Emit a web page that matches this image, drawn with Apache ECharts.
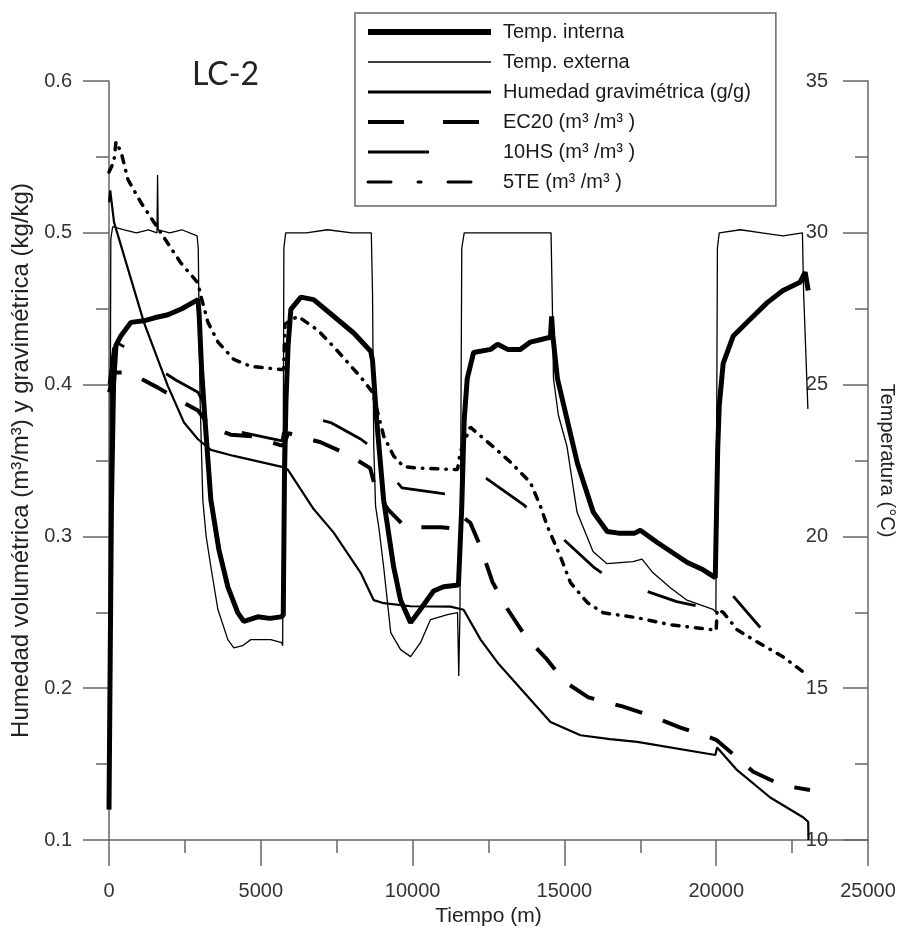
<!DOCTYPE html>
<html><head><meta charset="utf-8">
<script src="https://cdn.jsdelivr.net/npm/echarts@6.0.0/dist/echarts.min.js"></script>
<style>html,body{margin:0;padding:0;background:#fff}#c{width:900px;height:927px}</style>
</head><body><div id="c"></div>
<script>
// Tiempo (min) vs temperature (°C) — right axis
const tempInterna = [[0,11.0],[40,16],[80,21],[150,25.0],[230,26.3],[390,26.6],[720,27.05],[1150,27.1],[1500,27.2],[1940,27.3],[2400,27.5],[2930,27.8],[2970,27.3],[3050,25.5],[3150,24.0],[3355,21.2],[3620,19.56],[3915,18.34],[4240,17.49],[4440,17.2],[4900,17.35],[5300,17.3],[5660,17.35],[5740,17.4],[5780,22.0],[5830,24.5],[5900,26.3],[5990,27.48],[6320,27.88],[6740,27.8],[7400,27.25],[8060,26.7],[8620,26.1],[8680,25.8],[8815,23.85],[9046,21.2],[9375,19.0],[9605,17.9],[9934,17.16],[10260,17.6],[10690,18.2],[11020,18.34],[11510,18.4],[11560,18.4],[11620,21],[11700,23.85],[11800,25.2],[12010,26.06],[12570,26.16],[12800,26.33],[13130,26.16],[13550,26.16],[13880,26.4],[14540,26.56],[14580,27.25],[14620,26.6],[14770,25.2],[15430,22.4],[15950,20.8],[16410,20.16],[16840,20.1],[17300,20.1],[17500,20.2],[18060,19.8],[19050,19.14],[19570,18.9],[19970,18.64],[20010,18.7],[20050,22.9],[20100,24.3],[20230,25.7],[20560,26.6],[21120,27.15],[21680,27.7],[22200,28.1],[22760,28.37],[22930,28.7],[23030,28.1]];
const tempExterna = [[0,11.5],[60,29.8],[120,30.2],[500,30.1],[900,30.0],[1300,30.1],[1580,30.0],[1600,31.9],[1620,30.1],[2000,30.0],[2400,30.1],[2900,29.9],[2940,29.5],[3000,24.5],[3090,21.2],[3200,20.0],[3355,19.0],[3585,17.6],[3915,16.6],[4112,16.33],[4400,16.4],[4670,16.6],[5330,16.6],[5690,16.5],[5720,16.4],[5760,29.5],[5820,30.0],[6500,30.0],[7200,30.1],[8000,30.0],[8640,30.0],[8680,28.0],[8720,23.0],[8780,21.0],[8900,20.2],[9046,19.0],[9280,16.83],[9605,16.27],[9934,16.04],[10260,16.5],[10590,17.26],[11150,17.42],[11480,17.49],[11520,15.4],[11560,17.5],[11620,29.5],[11700,30.0],[12500,30.0],[13300,30.0],[14000,30.0],[14560,30.0],[14600,27.8],[14640,25.2],[14800,24.0],[15086,22.96],[15415,20.8],[15942,19.5],[16403,19.1],[17260,19.17],[17556,19.25],[17918,18.8],[18500,18.3],[19038,17.9],[19895,17.6],[19990,17.5],[20040,29.5],[20100,30.0],[20800,30.1],[21500,30.0],[22200,29.9],[22840,30.0],[22880,28.0],[23020,24.2]];
// Humidity values (left axis)
const humGrav = [[0,0.52],[40,0.528],[165,0.507],[1150,0.441],[1940,0.399],[2470,0.375],[2930,0.364],[3355,0.357],[4110,0.353],[5660,0.346],[5890,0.344],[6740,0.318],[7400,0.3025],[8290,0.276],[8720,0.258],[9050,0.256],[9930,0.254],[11250,0.2537],[11680,0.2517],[12240,0.232],[12800,0.2168],[14540,0.1778],[15530,0.169],[16500,0.1665],[17400,0.1646],[19970,0.156],[20030,0.161],[20690,0.146],[21780,0.128],[22860,0.115],[23030,0.112],[23040,0.1]];
const ec20 = [[0,0.395],[165,0.408],[660,0.408],[1610,0.398],[2370,0.389],[2930,0.383],[3355,0.372],[4010,0.367],[4700,0.366],[5660,0.36],[5760,0.36],[5900,0.368],[6970,0.362],[7860,0.354],[8600,0.345],[8800,0.33],[9180,0.318],[9770,0.306],[10920,0.306],[11500,0.305],[11700,0.312],[11900,0.309],[12240,0.293],[12630,0.27],[13130,0.252],[13720,0.234],[14380,0.22],[15030,0.204],[15790,0.194],[16910,0.188],[17830,0.182],[18820,0.174],[19740,0.168],[20000,0.166],[20530,0.157],[21220,0.145],[22170,0.136],[23090,0.133]];
const hs10 = [[0,0.40],[150,0.424],[300,0.427],[900,0.421],[1500,0.412],[2200,0.403],[2930,0.395],[3300,0.38],[4000,0.37],[5700,0.363],[5800,0.375],[6300,0.38],[7300,0.375],[8300,0.364],[8700,0.358],[9300,0.34],[9650,0.332],[11400,0.327],[11650,0.335],[12300,0.34],[13650,0.321],[14500,0.305],[14870,0.3],[15950,0.28],[16500,0.272],[17100,0.268],[18700,0.257],[19900,0.252],[20100,0.262],[20460,0.263],[21450,0.24]];
const te5 = [[0,0.54],[160,0.547],[230,0.56],[400,0.553],[625,0.535],[1050,0.52],[1710,0.5],[2370,0.48],[2930,0.467],[3030,0.458],[3260,0.441],[3590,0.428],[4110,0.4166],[4670,0.412],[5660,0.41],[5750,0.41],[5800,0.44],[6220,0.445],[6870,0.436],[7400,0.425],[8290,0.405],[8680,0.395],[9050,0.366],[9375,0.353],[9700,0.346],[10160,0.345],[11480,0.344],[11560,0.355],[11900,0.372],[12660,0.359],[13220,0.349],[13880,0.3355],[14210,0.32],[14440,0.3065],[14870,0.2867],[15200,0.2695],[15760,0.2563],[16280,0.2497],[17400,0.2464],[18490,0.2418],[19900,0.2385],[20000,0.238],[20030,0.2517],[20230,0.25],[20690,0.2385],[21220,0.232],[22200,0.2207],[22990,0.2088]];

const seriesNames = ['Temp. interna','Temp. externa','Humedad gravimétrica (g/g)','EC20 (m³ /m³ )','10HS (m³ /m³ )','5TE (m³ /m³ )'];
const xTicks = {min:0, max:25000, interval:5000};
const yLeftTicks = {min:0.1, max:0.6, interval:0.1};
const yRightTicks = {min:10, max:35, interval:5};

const FONT = '"Liberation Sans", Arial, sans-serif';
const AX = '#666';
const chart = echarts.init(document.getElementById('c'), null, {renderer:'canvas'});
const axisCommon = {
  axisLine:{show:true, onZero:false, lineStyle:{color:AX, width:1.5}},
  axisTick:{show:true, length:26, lineStyle:{color:AX, width:1.5}},
  minorTick:{show:true, splitNumber:2, length:13, lineStyle:{color:AX, width:1.5}},
  splitLine:{show:false}, minorSplitLine:{show:false},
};
chart.setOption({
  animation:false,
  backgroundColor:'#fff',
  title:{text:'LC-2', left:192, top:59, padding:0, textStyle:{fontSize:32, fontWeight:'normal', fontFamily:'Lato, "Open Sans", sans-serif', color:'#222'}},
  grid:{left:109, right:32, top:81, bottom:87, containLabel:false, outerBoundsMode:'none'},
  legend:{
    orient:'vertical', left:355, top:13, padding:[9,25,14,10],
    itemWidth:123, itemHeight:20, itemGap:10,
    borderColor:'#666', borderWidth:1.5, backgroundColor:'#fff',
    textStyle:{fontSize:20, fontFamily:FONT, color:'#1a1a1a', padding:[0,0,0,7]},
    itemStyle:{opacity:0},
    data:[
      {name:seriesNames[0], lineStyle:{width:6}},
      {name:seriesNames[1], lineStyle:{width:1.5}},
      {name:seriesNames[2], lineStyle:{width:2.8}},
      {name:seriesNames[3], lineStyle:{width:4, type:[36,39]}},
      {name:seriesNames[4], lineStyle:{width:3, type:[61,70]}},
      {name:seriesNames[5], lineStyle:{width:3, type:[23,27,3,27]}}
    ]
  },
  xAxis:Object.assign({type:'value', min:xTicks.min, max:xTicks.max, interval:xTicks.interval,
    axisLabel:{fontSize:20, color:'#333', margin:41, fontFamily:FONT, formatter:v=>String(v)},
    name:'Tiempo (m)', nameLocation:'middle', nameGap:60, nameTextStyle:{fontSize:21, color:'#222', fontFamily:FONT}
  }, axisCommon),
  yAxis:[
    Object.assign({type:'value', position:'left', min:yLeftTicks.min, max:yLeftTicks.max, interval:yLeftTicks.interval,
      axisLabel:{fontSize:20, color:'#333', margin:37, fontFamily:FONT, formatter:v=>v.toFixed(1)},
      name:'Humedad volumétrica (m³/m³) y gravimétrica (kg/kg)', nameLocation:'middle', nameGap:73, nameRotate:90,
      nameTextStyle:{fontSize:24, color:'#222', fontFamily:FONT}
    }, axisCommon),
    Object.assign({type:'value', position:'right', min:yRightTicks.min, max:yRightTicks.max, interval:yRightTicks.interval,
      axisLabel:{inside:true, fontSize:20, color:'#333', margin:40, fontFamily:FONT},
      name:'Temperatura (°C)', nameLocation:'middle', nameGap:7, nameRotate:-90,
      nameTextStyle:{fontSize:20, color:'#222', fontFamily:FONT}
    }, axisCommon, {axisTick:{show:true, inside:true, length:25, lineStyle:{color:AX, width:1.5}}})
  ],
  series:[
    {name:seriesNames[0], type:'line', yAxisIndex:1, data:tempInterna, symbol:'none', lineStyle:{color:'#000', width:5}, itemStyle:{color:'#000'}, z:5},
    {name:seriesNames[1], type:'line', yAxisIndex:1, data:tempExterna, symbol:'none', lineStyle:{color:'#000', width:1.3}, itemStyle:{color:'#000'}, z:4},
    {name:seriesNames[2], type:'line', yAxisIndex:0, data:humGrav, symbol:'none', lineStyle:{color:'#000', width:2.2}, itemStyle:{color:'#000'}, z:3},
    {name:seriesNames[3], type:'line', yAxisIndex:0, data:ec20, symbol:'none', lineStyle:{color:'#000', width:4, type:[28,22]}, itemStyle:{color:'#000'}, z:3},
    {name:seriesNames[4], type:'line', yAxisIndex:0, data:hs10, symbol:'none', lineStyle:{color:'#000', width:2.8, type:[50,50]}, itemStyle:{color:'#000'}, z:3},
    {name:seriesNames[5], type:'line', yAxisIndex:0, data:te5, symbol:'none', lineStyle:{color:'#000', width:3.5, type:[7,8,0.5,8], cap:'round'}, itemStyle:{color:'#000'}, z:3}
  ]
});
</script></body></html>
